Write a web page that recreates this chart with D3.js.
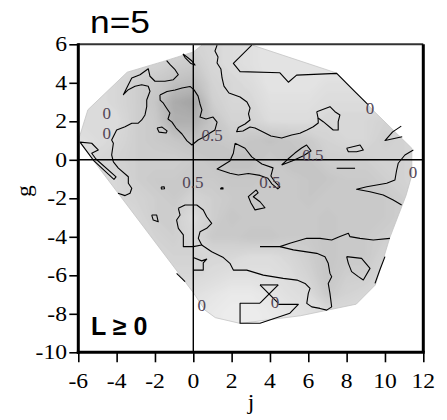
<!DOCTYPE html>
<html><head><meta charset="utf-8">
<script src="https://cdn.jsdelivr.net/npm/d3@7"></script>
<style>html,body{margin:0;padding:0;background:#fff;} svg{display:block;}</style>
</head><body>
<svg id="chart" width="447" height="420"></svg>
<script>
// ---------- data ----------
const titleText = "n=5";
const panelText = "L \u2265 0";
const xLabel = "j";
const yLabel = "g";
const jTicks = [-6,-4,-2,0,2,4,6,8,10,12];
const gTicks = [-10,-8,-6,-4,-2,0,2,4,6];

// shading grid: columns j = -6..12, rows g = 6..-9 (0 light .. 1 dark)
const gridJ = d3.range(-6, 13);
const gridG = d3.range(6, -10, -1);
const shadeGrid = [
  [.3,.3,.3,.3,.35,.4,.4,.35,.3,.25,.2,.2,.2,.2,.2,.2,.2,.2,.2],
  [.3,.3,.35,.35,.4,.45,.5,.35,.3,.25,.2,.2,.2,.2,.2,.2,.2,.2,.2],
  [.3,.3,.35,.45,.5,.6,.65,.4,.35,.3,.2,.2,.2,.25,.25,.25,.25,.25,.25],
  [.3,.3,.35,.45,.55,.85,.95,.45,.35,.35,.25,.25,.25,.3,.3,.3,.3,.3,.3],
  [.3,.3,.3,.45,.5,.8,.8,.55,.4,.4,.3,.3,.3,.35,.35,.35,.4,.4,.35],
  [.25,.3,.35,.45,.5,.55,.6,.55,.5,.55,.6,.55,.5,.4,.35,.35,.45,.4,.35],
  [.3,.35,.4,.45,.45,.45,.5,.55,.6,.6,.5,.6,.55,.45,.45,.45,.4,.4,.35],
  [.3,.35,.35,.45,.5,.5,.5,.5,.55,.55,.5,.5,.55,.55,.5,.5,.45,.4,.35],
  [.3,.35,.35,.4,.45,.5,.4,.45,.5,.5,.5,.5,.55,.5,.5,.5,.5,.45,.35],
  [.3,.3,.35,.35,.45,.45,.3,.45,.55,.5,.5,.5,.5,.55,.5,.5,.5,.45,.35],
  [.3,.3,.3,.35,.4,.45,.35,.5,.5,.55,.55,.5,.5,.55,.5,.5,.45,.4,.35],
  [.3,.3,.3,.3,.35,.4,.4,.35,.35,.3,.3,.35,.45,.55,.5,.5,.4,.35,.3],
  [.3,.3,.3,.3,.3,.35,.35,.3,.25,.25,.25,.3,.4,.55,.45,.45,.35,.3,.3],
  [.25,.25,.25,.25,.25,.25,.25,.2,.15,.15,.2,.25,.3,.5,.4,.35,.3,.3,.3],
  [.2,.2,.2,.2,.2,.2,.2,.15,.1,.1,.15,.2,.25,.3,.3,.3,.3,.3,.3],
  [.2,.2,.2,.2,.2,.2,.2,.15,.1,.1,.15,.2,.25,.3,.3,.3,.3,.3,.3]
];

// boundary of the sampled region [j, g]
const hull = [[-6.0,1.0],[-5.5,2.6],[-3.45,4.55],[-1.6,5.1],[0,5.6],[0.5,6.0],[2.95,6.0],[7.5,4.5],
  [9.35,2.6],[11.4,0.6],[11.4,-0.8],[11.1,-1.85],[10.25,-4.05],[9.5,-6.5],[8.5,-7.5],[5.6,-8.1],
  [2.45,-8.5],[1.15,-8.2],[0.6,-7.8],[0,-6.9]];

// contour lines [j, g]
const lineL1 = [[-3.93,-1.74],[-3.56,-1.86],[-3.30,-1.74],[-3.21,-1.48],[-3.39,-1.22],[-3.39,-0.88],[-3.91,-0.43],[-4.17,-0.11],[-4.26,0.25],[-4.17,0.86],[-4.26,1.03],[-4.00,1.55],[-3.56,1.72],[-3.21,1.90],[-2.87,1.90],[-2.69,2.07],[-2.52,2.33],[-2.43,2.76],[-2.43,3.11],[-2.26,3.56],[-2.35,3.82],[-2.69,3.90],[-3.04,3.82],[-3.39,3.64],[-3.65,3.38],[-3.39,3.90],[-3.21,4.25],[-2.78,4.42],[-2.35,4.73],[-2.26,4.34],[-2.00,4.08],[-1.48,4.08],[-1.04,4.16],[-0.78,4.42],[-0.95,4.68],[-1.21,4.94],[-1.39,5.15]];
const lineS1 = [[-5.91,0.92],[-5.30,0.86],[-4.96,0.51],[-5.30,0.34],[-5.08,0.04],[-4.03,-0.89],[-4.14,-1.02],[-5.18,-0.06],[-5.91,0.92]];
const lineB1 = [[-1.74,3.37],[-1.37,3.55],[-0.95,3.63],[-0.59,3.73],[-0.17,3.81],[0.04,3.63],[0.25,3.31],[0.35,2.90],[0.45,2.59],[0.35,2.22],[0.66,2.12],[1.03,2.22],[1.24,1.96],[1.13,1.55],[0.87,1.39],[0.56,1.18],[0.25,1.03],[-0.07,0.77],[-0.33,0.98],[-0.59,1.34],[-0.90,1.65],[-1.11,1.96],[-1.32,2.12],[-1.22,2.43],[-1.39,2.68],[-1.56,2.94],[-1.73,3.10],[-1.74,3.37]];
const lineT1 = [[-1.89,1.65],[-1.63,1.70],[-1.37,1.50],[-1.42,1.39],[-1.79,1.44],[-1.89,1.65]];
const lineS2 = [[-0.54,5.50],[-0.33,5.34],[-0.07,5.13],[0.09,4.92],[-0.12,5.00],[-0.43,5.31],[-0.54,5.50]];
const lineL2 = [[1.24,5.96],[1.13,5.65],[1.29,5.34],[1.24,5.03],[1.44,4.72],[1.50,4.25],[1.60,3.83],[1.86,3.47],[2.44,3.26],[2.80,3.00],[2.96,2.69],[2.88,2.38],[2.96,2.07],[2.70,1.86],[2.35,1.68],[2.26,1.46],[2.59,1.50],[2.96,1.70],[3.22,1.65],[3.64,1.44],[4.05,1.24],[4.61,1.13],[5.13,1.29],[5.56,1.38],[5.93,1.55],[6.26,1.72],[6.52,1.91],[6.51,2.17]];
const lineR1 = [[6.44,2.50],[7.13,2.76],[7.39,2.50],[7.65,2.33],[7.56,1.98],[7.56,1.55],[7.30,1.55],[6.78,1.98],[6.51,2.17],[6.44,2.50]];
const lineL3 = [[3.05,5.96],[2.09,5.01],[2.44,4.58],[4.52,4.52],[4.96,4.03],[5.39,4.40],[7.48,4.49],[8.43,3.54],[9.13,2.85]];
const lineW1 = [[10.85,1.75],[10.4,1.45],[10.0,1.0],[10.9,1.2]];
const lineR2 = [[8.00,0.60],[8.70,0.77],[8.87,0.51],[8.52,0.42],[8.09,0.42],[8.00,0.60]];
const lineD1 = [[7.48,-0.44],[8.44,-0.44]];
const lineR3 = [[11.48,0.51],[11.04,0.25],[10.69,-0.18],[10.61,-0.53],[10.52,-1.05],[10.09,-1.22],[9.57,-1.31],[9.05,-1.40],[8.52,-1.53],[9.22,-1.66],[9.91,-1.83],[10.43,-2.09],[10.87,-2.35]];
const lineM1 = [[2.18,0.86],[2.70,0.60],[3.05,0.15],[3.58,-0.22],[4.16,-0.42],[4.05,-0.84],[4.26,-1.15],[4.52,-1.41],[4.41,-1.51],[4.10,-1.25],[3.89,-0.96],[3.48,-0.81],[2.87,-0.71],[2.35,-0.79],[1.91,-0.70],[1.24,-0.48],[1.91,-0.06],[2.09,0.34],[2.18,0.86]];
const lineM2 = [[4.61,-0.27],[4.94,0.04],[5.30,0.35],[5.65,0.61],[5.91,0.77],[6.14,0.46],[5.72,0.20],[5.15,-0.06],[4.61,-0.27]];
const lineC1 = [[3.28,-1.56],[2.87,-1.91],[3.01,-2.24],[3.22,-2.60],[3.74,-2.49],[3.48,-2.18],[3.13,-1.92],[3.38,-1.72],[3.28,-1.56]];
const lineLS = [[-0.78,-2.52],[-0.43,-2.35],[0.18,-2.35],[0.52,-2.61],[0.70,-2.96],[0.96,-3.30],[0.70,-3.56],[0.35,-3.74],[0.26,-4.08],[0.44,-4.43],[0.00,-4.51],[-0.52,-4.51],[-0.52,-3.90],[-0.78,-3.56],[-0.87,-3.13],[-0.69,-2.87],[-0.78,-2.52]];
const lineL4a = [[0.44,-4.43],[0.96,-4.78],[1.57,-5.08],[1.91,-5.38],[2.09,-5.73],[2.79,-5.73],[3.65,-5.99],[4.69,-6.16],[5.41,-6.25],[5.83,-6.42],[6.09,-6.68],[6.00,-6.94],[5.92,-7.46],[6.18,-7.64],[6.61,-7.72],[6.96,-7.81],[7.22,-7.64],[7.13,-6.94],[7.04,-6.42],[7.22,-6.08],[7.13,-5.90],[7.04,-5.38],[6.87,-5.04],[6.44,-4.86],[5.22,-4.68],[4.52,-4.51],[3.48,-4.51]];
const lineL4b = [[4.52,-4.51],[5.04,-4.34],[5.92,-4.08],[6.61,-4.08],[7.22,-4.17],[7.65,-3.99],[8.09,-3.82],[8.17,-3.99],[8.70,-4.08],[9.39,-4.17],[10.26,-4.08]];
const lineR4 = [[8.00,-5.03],[8.78,-5.12],[9.22,-5.64],[8.87,-6.24],[8.61,-6.07],[8.26,-5.81],[8.09,-5.38],[8.00,-5.03]];
const lineR5 = [[10.00,-5.03],[9.74,-5.70],[9.48,-6.42]];
const lineS3 = [[0,-5.08],[0.44,-5.25],[0.70,-5.16],[0.52,-5.36],[0.52,-5.73],[0,-5.73]];
const lineS4 = [[-0.87,-5.90],[-0.43,-6.33]];
const lineT2 = [[-2.17,-2.87],[-1.91,-2.87],[-1.83,-3.22],[-2.09,-3.13],[-2.17,-2.87]];
const lineT3 = [[-1.68,-1.42],[-1.52,-1.40],[-1.50,-1.50],[-1.66,-1.52],[-1.68,-1.42]];
const lineT4 = [[1.43,-1.46],[1.55,-1.46],[1.55,-1.52],[1.43,-1.52],[1.43,-1.46]];
const lineXbar = [[3.48,-6.50],[4.43,-6.50]];
const lineXa = [[3.48,-6.50],[4.43,-7.45]];
const lineXb = [[4.43,-6.50],[3.48,-7.45]];
const lineBox = [[3.48,-7.45],[2.44,-7.45],[2.44,-8.49],[3.48,-8.49],[5.04,-7.97],[5.48,-7.51],[4.43,-7.51]];

// contour level labels
const levelText = ["0","0","0.5","0.5","0.5","0.5","0","0","0","0"];
const levelJ =    [-4.52,-4.52,0.98,-0.02,6.24,4.00,9.22,11.46,0.44,4.26];
const levelG =    [2.42,1.38,1.29,-1.15,0.25,-1.15,2.69,-0.63,-7.54,-7.39];

// ---------- drawing ----------
const SERIF = '"Liberation Serif"';
const SANS = '"Liberation Sans"';
const svg = d3.select("#chart");
const x = d3.scaleLinear().domain([-6, 12]).range([78.3, 423.3]);
const y = d3.scaleLinear().domain([-10, 6]).range([352.3, 44.3]);
const gray = v => { const c = Math.round(246 - 88 * v); return `rgb(${c},${c},${c})`; };

const defs = svg.append("defs");
defs.append("clipPath").attr("id", "hullClip")
  .append("path").attr("d", d3.line().x(d => x(d[0])).y(d => y(d[1]))(hull) + "Z");
defs.append("filter").attr("id", "soft").attr("x", "-5%").attr("y", "-5%").attr("width", "110%").attr("height", "110%")
  .append("feGaussianBlur").attr("stdDeviation", 1.6);

const nx = gridJ.length, ny = gridG.length;
const flat = shadeGrid.flat();
const thresholds = d3.range(0.05, 1.0, 0.025);
const contours = d3.contours().size([nx, ny]).thresholds(thresholds)(flat);
const proj = d3.geoTransform({
  point: function(px, py) {
    const jj = gridJ[0] + (px - 0.5);
    const gg = gridG[0] - (py - 0.5);
    this.stream.point(x(jj), y(gg));
  }
});
const geoPath = d3.geoPath(proj);

const shadeOuter = svg.append("g").attr("clip-path", "url(#hullClip)");
const shade = shadeOuter.append("g").attr("filter", "url(#soft)");
shade.append("path")
  .attr("d", d3.line().x(d => x(d[0])).y(d => y(d[1]))(hull) + "Z")
  .attr("fill", gray(0.05));
shade.selectAll("path.band").data(contours).join("path")
  .attr("class", "band")
  .attr("d", geoPath)
  .attr("fill", d => gray(d.value + 0.0125));

// hull edge
svg.append("path")
  .attr("d", d3.line().x(d => x(d[0])).y(d => y(d[1]))(hull) + "Z")
  .attr("fill", "none").attr("stroke", "#c4c4c4").attr("stroke-width", 0.8);

// reference lines j=0, g=0
svg.append("line").attr("x1", x(0)).attr("x2", x(0)).attr("y1", y(6)).attr("y2", y(-10))
  .attr("stroke", "#000").attr("stroke-width", 1.4);
svg.append("line").attr("x1", x(-6)).attr("x2", x(12)).attr("y1", y(0)).attr("y2", y(0))
  .attr("stroke", "#000").attr("stroke-width", 1.4);

// contour lines
const contourPaths = [lineL1, lineS1, lineB1, lineT1, lineS2, lineL2, lineR1, lineL3, lineW1, lineR2, lineD1,
  lineR3, lineM1, lineM2, lineC1, lineLS, lineL4a, lineL4b, lineR4, lineR5, lineS3, lineS4, lineT2, lineT3,
  lineT4, lineXbar, lineXa, lineXb, lineBox];
const lineGen = d3.line().x(d => x(d[0])).y(d => y(d[1]));
svg.append("g").selectAll("path").data(contourPaths).join("path")
  .attr("d", lineGen)
  .attr("fill", "none").attr("stroke", "#000").attr("stroke-width", 1.1)
  .attr("stroke-linejoin", "round");

// level labels
svg.append("g").selectAll("text").data(levelText).join("text")
  .attr("x", (d, i) => x(levelJ[i])).attr("y", (d, i) => y(levelG[i]) + 6)
  .attr("text-anchor", "middle")
  .style("font-family", SERIF)
  .attr("font-size", 17).attr("fill", "#524656")
  .text(d => d);

// frame
const frame = svg.append("g").attr("stroke", "#000").attr("fill", "none");
frame.append("line").attr("x1", x(-6)).attr("x2", x(12)).attr("y1", y(6)).attr("y2", y(6)).attr("stroke-width", 2).attr("stroke", "#333");
frame.append("line").attr("x1", x(12)).attr("x2", x(12)).attr("y1", y(6)).attr("y2", y(-10)).attr("stroke-width", 3);
frame.append("line").attr("x1", x(-6)).attr("x2", x(-6)).attr("y1", y(6) - 1).attr("y2", y(-10) + 1.5).attr("stroke-width", 3);
frame.append("line").attr("x1", x(-6) - 1.5).attr("x2", x(12) + 1.5).attr("y1", y(-10)).attr("y2", y(-10)).attr("stroke-width", 3);

// axes (ticks only; labels drawn below)
const yAxis = svg.append("g").attr("transform", `translate(${x(-6)},0)`)
  .call(d3.axisLeft(y).tickValues(gTicks).tickSize(9).tickPadding(0).tickFormat(""));
yAxis.select(".domain").remove();
yAxis.selectAll(".tick line").attr("stroke", "#000").attr("stroke-width", 1.6);
const xAxis = svg.append("g").attr("transform", `translate(0,${y(-10)})`)
  .call(d3.axisBottom(x).tickValues(jTicks).tickSize(10).tickPadding(0).tickFormat(""));
xAxis.select(".domain").remove();
xAxis.selectAll(".tick line").attr("stroke", "#000").attr("stroke-width", 1.6);

const stretch = 1.18;
function stretchedText(px, py, txt, anchor, size, fam, weight, sx, rot) {
  const g = svg.append("g").attr("transform", `translate(${px},${py}) rotate(${rot || 0}) scale(${sx},1)`);
  g.append("text").attr("x", 0).attr("y", 0).attr("text-anchor", anchor)
    .style("font-family", fam)
    .attr("font-size", size).attr("font-weight", weight || "normal")
    .attr("fill", "#000").text(txt);
}
gTicks.forEach(v => stretchedText(67, y(v) + 7, v < 0 ? "-" + Math.abs(v) : String(v), "end", 20, SERIF, "normal", stretch));
jTicks.forEach(v => stretchedText(x(v), 388, v < 0 ? "-" + Math.abs(v) : String(v), "middle", 20, SERIF, "normal", stretch));
stretchedText(251, 409, xLabel, "middle", 20, SERIF, "normal", stretch);
stretchedText(31, 191, yLabel, "middle", 20, SERIF, "normal", stretch, -90);
stretchedText(90, 33, titleText, "start", 31, SANS, "normal", 1.14);
stretchedText(91, 335, panelText, "start", 25, SANS, "bold", 1.0);
</script>
</body></html>
